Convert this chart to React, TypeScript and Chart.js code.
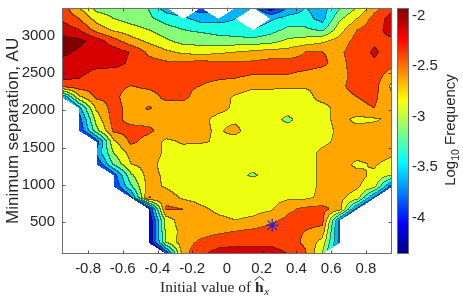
import React, { useEffect, useRef } from "react";
import { Chart, registerables } from "chart.js";

Chart.register(...registerables);

const N = null;

// grid of bin centres (vertices of the contour grid)
const xCenters = [-0.95, -0.85, -0.75, -0.65, -0.55, -0.45, -0.35, -0.25, -0.15, -0.05, 0.05, 0.15, 0.25, 0.35, 0.45, 0.55, 0.65, 0.75, 0.85, 0.95];
const yCenters = [3375, 3225, 3075, 2925, 2775, 2625, 2475, 2325, 2175, 2025, 1875, 1725, 1575, 1425, 1275, 1125, 975, 825, 675, 525, 375, 225, 75];

// log10 frequency, rows follow yCenters (top to bottom), columns follow xCenters
const logFreq: (number | null)[][] = [
  [-2.37, -2.75, -3.1, -3.15, -3.2, -3.25, -3.65, N, -3.9, N, -3.65, -3.7, -4.2, -3.75, -3.5, -3.6, -3.3, -3.0, -2.6, -2.3],
  [-2.28, -2.5, -2.85, -3.0, -3.1, -3.2, -3.35, -3.45, -3.6, -3.6, -3.5, N, -3.55, -3.4, -3.4, -3.6, -3.05, -2.75, -2.4, -2.15],
  [-2.1, -2.25, -2.6, -2.8, -2.9, -3.0, -3.15, -3.25, -3.3, -3.35, -3.4, -3.5, -3.35, -3.2, -3.2, -3.3, -2.85, -2.5, -2.35, -2.15],
  [-1.9, -1.93, -2.12, -2.4, -2.65, -2.8, -2.95, -3.1, -3.1, -3.15, -3.15, -3.15, -3.1, -2.95, -2.9, -2.8, -2.65, -2.4, -2.28, -2.3],
  [-1.93, -2.05, -2.12, -2.12, -2.27, -2.55, -2.7, -2.8, -2.85, -2.8, -2.75, -2.7, -2.65, -2.65, -2.5, -2.5, -2.55, -2.35, -2.22, -2.35],
  [-2.1, -2.12, -2.15, -2.15, -2.3, -2.4, -2.45, -2.45, -2.4, -2.45, -2.45, -2.45, -2.4, -2.4, -2.4, -2.45, -2.6, -2.35, -2.28, -2.4],
  [-2.15, -2.2, -2.35, -2.4, -2.4, -2.4, -2.4, -2.4, -2.45, -2.45, -2.45, -2.5, -2.5, -2.5, -2.55, -2.6, -2.6, -2.4, -2.35, -2.65],
  [-2.35, -2.35, -2.4, -2.45, -2.5, -2.45, -2.4, -2.45, -2.5, -2.55, -2.6, -2.68, -2.68, -2.7, -2.72, -2.7, -2.55, -2.4, -2.4, -2.8],
  [-3.8, -2.8, -2.45, -2.45, -2.6, -2.6, -2.45, -2.45, -2.6, -2.65, -2.78, -2.9, -2.9, -2.9, -2.85, -2.65, -2.6, -2.5, -2.45, -2.7],
  [N, -3.6, -2.7, -2.4, -2.6, -2.48, -2.6, -2.6, -2.65, -2.7, -2.78, -2.9, -2.9, -2.9, -2.8, -2.85, -2.65, -2.55, -2.5, -2.7],
  [N, -3.9, -2.9, -2.4, -2.6, -2.6, -2.6, -2.65, -2.7, -2.8, -2.8, -2.9, -2.9, -3.05, -2.9, -2.85, -2.65, -2.82, -2.78, -2.7],
  [N, -4.0, -3.1, -2.45, -2.4, -2.45, -2.6, -2.65, -2.7, -2.78, -2.68, -2.9, -2.95, -2.9, -2.9, -2.85, -2.7, -2.65, -2.65, -2.65],
  [N, N, -3.9, -2.8, -2.45, -2.6, -2.8, -2.72, -2.72, -2.78, -2.85, -2.95, -2.95, -2.9, -2.85, -2.8, -2.7, -2.65, -2.65, -2.7],
  [N, N, -3.7, -3.0, -2.65, -2.6, -2.8, -2.85, -2.9, -2.9, -2.95, -2.95, -2.95, -2.9, -2.85, -2.7, -2.65, -2.65, -2.62, -2.7],
  [N, N, -4.0, -3.2, -2.75, -2.65, -2.85, -2.9, -2.95, -2.95, -2.95, -2.95, -2.9, -2.9, -2.85, -2.7, -2.65, -2.8, -2.72, -2.85],
  [N, N, N, -3.9, -3.05, -2.65, -2.8, -2.9, -2.95, -2.95, -2.95, -3.02, -2.95, -2.9, -2.85, -2.7, -2.65, -2.68, -2.8, -3.0],
  [N, N, N, -4.0, -3.3, -2.65, -2.78, -2.9, -2.9, -2.95, -2.9, -2.9, -2.9, -2.85, -2.85, -2.7, -2.65, -2.72, -2.9, -3.9],
  [N, N, N, N, -3.8, -2.48, -2.6, -2.8, -2.85, -2.9, -2.85, -2.85, -2.85, -2.8, -2.8, -2.7, -2.7, -2.85, -3.85, N],
  [N, N, N, N, N, -4.1, -2.45, -2.5, -2.7, -2.8, -2.85, -2.85, -2.8, -2.55, -2.45, -2.42, -2.6, -3.85, N, N],
  [N, N, N, N, N, -4.3, -2.9, -2.6, -2.65, -2.7, -2.75, -2.7, -2.55, -2.45, -2.4, -2.4, -3.8, N, N, N],
  [N, N, N, N, N, -4.35, -2.95, -2.65, -2.6, -2.55, -2.5, -2.45, -2.4, -2.45, -2.5, -2.6, -3.85, N, N, N],
  [N, N, N, N, N, -4.3, -3.0, -2.6, -2.45, -2.35, -2.3, -2.3, -2.3, -2.35, -2.55, -2.85, -3.8, N, N, N],
  [N, N, N, N, N, N, -4.0, -2.6, -2.3, -2.15, -2.15, -2.15, -2.15, -2.25, -2.45, -3.0, N, N, N, N],
];

const contourLevels = [-4.25, -4, -3.75, -3.5, -3.25, -3, -2.75, -2.5, -2.25, -2];
const colorLimits = [-4.36, -1.92];

const xTicks = [-0.8, -0.6, -0.4, -0.2, 0, 0.2, 0.4, 0.6, 0.8];
const xTickLabels = ["-0.8", "-0.6", "-0.4", "-0.2", "0", "0.2", "0.4", "0.6", "0.8"];
const yTicks = [500, 1000, 1500, 2000, 2500, 3000];
const cbTicks = [-4, -3.5, -3, -2.5, -2];
const cbTickLabels = ["-4", "-3.5", "-3", "-2.5", "-2"];

const markerX = [0.26];
const markerY = [460];

const SANS = '"Liberation Sans", Arial, Helvetica, sans-serif';
const SERIF = '"Liberation Serif", "Times New Roman", serif';
const TEXT = "#262626";

function clamp01(v: number) {
  return Math.min(1, Math.max(0, v));
}
function jet(t: number): [number, number, number] {
  t = clamp01(t);
  return [
    Math.round(clamp01(1.5 - Math.abs(4 * t - 3)) * 255),
    Math.round(clamp01(1.5 - Math.abs(4 * t - 2)) * 255),
    Math.round(clamp01(1.5 - Math.abs(4 * t - 1)) * 255),
  ];
}

function locate(arr: number[], v: number): { i: number; f: number } | null {
  for (let i = 0; i < arr.length - 1; i++) {
    const a = arr[i], b = arr[i + 1];
    const lo = Math.min(a, b), hi = Math.max(a, b);
    if (v >= lo && v <= hi) return { i, f: (v - a) / (b - a) };
  }
  return null;
}

function sample(cx: { i: number; f: number }, cy: { i: number; f: number }): number | null {
  const a = logFreq[cy.i][cx.i];
  const b = logFreq[cy.i][cx.i + 1];
  const c = logFreq[cy.i + 1][cx.i];
  const d = logFreq[cy.i + 1][cx.i + 1];
  const u = cx.f, v = cy.f;
  const nn = (a === null ? 1 : 0) + (b === null ? 1 : 0) + (c === null ? 1 : 0) + (d === null ? 1 : 0);
  if (nn === 0) {
    return (a as number) * (1 - u) * (1 - v) + (b as number) * u * (1 - v) + (c as number) * (1 - u) * v + (d as number) * u * v;
  }
  if (nn > 1) return null;
  if (a === null) {
    if (u + v < 1) return null;
    return (d as number) + ((b as number) - (d as number)) * (1 - v) + ((c as number) - (d as number)) * (1 - u);
  }
  if (b === null) {
    if (v < u) return null;
    return a + ((d as number) - (c as number)) * u + ((c as number) - a) * v;
  }
  if (c === null) {
    if (u < v) return null;
    return a + ((b as number) - a) * u + ((d as number) - (b as number)) * v;
  }
  if (u + v > 1) return null;
  return a + ((b as number) - a) * u + ((c as number) - a) * v;
}

function levelIndex(v: number) {
  let k = 0;
  for (const l of contourLevels) if (v >= l) k++;
  return k;
}

function levelColor(k: number): [number, number, number] {
  const n = contourLevels.length;
  const lower = k === 0 ? contourLevels[0] - 0.25 : contourLevels[k - 1];
  const upper = k === n ? contourLevels[n - 1] + 0.25 : contourLevels[k];
  const mid = (lower + upper) / 2;
  return jet((mid - colorLimits[0]) / (colorLimits[1] - colorLimits[0]));
}

const contourPlugin = {
  id: "contourFill",
  beforeDatasetsDraw(chart: any) {
    const { ctx, chartArea: ca, scales } = chart;
    const xs = scales.x, ys = scales.y;
    const L = Math.round(ca.left), T = Math.round(ca.top);
    const R = Math.round(ca.right), B = Math.round(ca.bottom);
    const W = R - L, H = B - T;
    const lev = new Int16Array(W * H);
    const colLoc: any[] = [];
    for (let i = 0; i < W; i++) colLoc.push(locate(xCenters, xs.getValueForPixel(L + i + 0.5)));
    for (let j = 0; j < H; j++) {
      const cy = locate(yCenters, ys.getValueForPixel(T + j + 0.5));
      for (let i = 0; i < W; i++) {
        const cx = colLoc[i];
        let k = -1;
        if (cx && cy) {
          const v = sample(cx, cy);
          if (v !== null) k = levelIndex(v);
        }
        lev[j * W + i] = k;
      }
    }
    const palette = [] as [number, number, number][];
    for (let k = 0; k <= contourLevels.length; k++) palette.push(levelColor(k));
    const img = ctx.createImageData(W, H);
    const data = img.data;
    for (let j = 0; j < H; j++) {
      for (let i = 0; i < W; i++) {
        const idx = j * W + i;
        const k = lev[idx];
        const p = idx * 4;
        if (k < 0) {
          data[p] = 255; data[p + 1] = 255; data[p + 2] = 255; data[p + 3] = 255;
          continue;
        }
        let [r, g, b] = palette[k];
        let edge = false;
        if (i + 1 < W) { const kr = lev[idx + 1]; if (kr >= 0 && kr !== k) edge = true; }
        if (j + 1 < H) { const kd = lev[idx + W]; if (kd >= 0 && kd !== k) edge = true; }
        if (edge) {
          const a = 0.6;
          r = r * (1 - a) + 25 * a; g = g * (1 - a) + 25 * a; b = b * (1 - a) + 25 * a;
        }
        data[p] = r; data[p + 1] = g; data[p + 2] = b; data[p + 3] = 255;
      }
    }
    ctx.putImageData(img, L, T);
  },
  afterDraw(chart: any) {
    const { ctx, chartArea: ca, scales } = chart;
    const xs = scales.x, ys = scales.y, cs = scales.cb;
    ctx.save();
    // tick marks (inward)
    ctx.strokeStyle = TEXT;
    ctx.lineWidth = 0.8;
    ctx.beginPath();
    for (const v of xTicks) {
      const px = Math.round(xs.getPixelForValue(v)) + 0.5;
      ctx.moveTo(px, ca.bottom); ctx.lineTo(px, ca.bottom - 3.5);
      ctx.moveTo(px, ca.top); ctx.lineTo(px, ca.top + 3.5);
    }
    for (const v of yTicks) {
      const py = Math.round(ys.getPixelForValue(v)) + 0.5;
      ctx.moveTo(ca.left, py); ctx.lineTo(ca.left + 3.5, py);
      ctx.moveTo(ca.right, py); ctx.lineTo(ca.right - 3.5, py);
    }
    ctx.stroke();
    // axes box
    ctx.strokeStyle = "rgb(110,110,110)";
    ctx.lineWidth = 1;
    ctx.strokeRect(Math.round(ca.left) + 0.5, Math.round(ca.top) + 0.5, Math.round(ca.right - ca.left) - 1, Math.round(ca.bottom - ca.top) - 1);

    // colour bar
    const cbL = 397, cbR = 409;
    const cT = Math.round(cs.top), cB = Math.round(cs.bottom);
    for (let y = cT; y < cB; y++) {
      const v = cs.getValueForPixel(y + 0.5);
      const [r, g, b] = jet((v - colorLimits[0]) / (colorLimits[1] - colorLimits[0]));
      ctx.fillStyle = `rgb(${r},${g},${b})`;
      ctx.fillRect(cbL, y, cbR - cbL, 1);
    }
    ctx.strokeStyle = "rgb(110,110,110)";
    ctx.strokeRect(cbL + 0.5, cT + 0.5, cbR - cbL - 1, cB - cT - 1);

    ctx.fillStyle = TEXT;
    // y title
    ctx.save();
    ctx.translate(18, (ca.top + ca.bottom) / 2);
    ctx.rotate(-Math.PI / 2);
    ctx.font = `17px ${SANS}`;
    ctx.textAlign = "center";
    ctx.textBaseline = "alphabetic";
    ctx.fillText("Minimum separation, AU", 0, 0);
    ctx.restore();

    // colour bar title: Log10 Frequency
    ctx.save();
    ctx.translate(455, 130);
    ctx.rotate(-Math.PI / 2);
    ctx.textAlign = "left";
    ctx.textBaseline = "alphabetic";
    ctx.font = `15px ${SANS}`;
    const w1 = ctx.measureText("Log").width;
    const w3 = ctx.measureText(" Frequency").width;
    ctx.font = `10.5px ${SANS}`;
    const w2 = ctx.measureText("10").width;
    let u = -(w1 + w2 + w3) / 2;
    ctx.font = `15px ${SANS}`;
    ctx.fillText("Log", u, 0);
    u += w1;
    ctx.font = `10.5px ${SANS}`;
    ctx.fillText("10", u, 4);
    u += w2;
    ctx.font = `15px ${SANS}`;
    ctx.fillText(" Frequency", u, 0);
    ctx.restore();

    // x title: Initial value of h-hat_x
    ctx.save();
    ctx.textAlign = "left";
    ctx.textBaseline = "alphabetic";
    ctx.font = `15.5px ${SERIF}`;
    const base = 292;
    let x0 = 160;
    ctx.fillText("Initial value of ", x0, base);
    x0 += ctx.measureText("Initial value of ").width;
    ctx.font = `bold 15.5px ${SERIF}`;
    ctx.fillText("h", x0, base);
    const hw = ctx.measureText("h").width;
    ctx.strokeStyle = TEXT;
    ctx.lineWidth = 1;
    ctx.beginPath();
    ctx.moveTo(x0 - 0.5, 280.5);
    ctx.lineTo(x0 + hw / 2, 276.5);
    ctx.lineTo(x0 + hw + 0.5, 280.5);
    ctx.stroke();
    ctx.font = `italic 11px ${SERIF}`;
    ctx.fillText("x", x0 + hw + 0.5, base + 2.5);
    ctx.restore();

    ctx.restore();
  },
};

function noPad(s: any) {
  s.paddingTop = 0;
  s.paddingBottom = 0;
  s.paddingLeft = 0;
  s.paddingRight = 0;
}

export default function App() {
  const ref = useRef<HTMLCanvasElement | null>(null);
  useEffect(() => {
    document.body.style.margin = "0";
    const canvas = ref.current;
    if (!canvas) return;
    const chart = new Chart(canvas, {
      type: "scatter",
      data: {
        datasets: [
          {
            data: markerX.map((x, i) => ({ x, y: markerY[i] })),
            pointStyle: "star",
            radius: 6.5,
            borderColor: "rgb(30,30,220)",
            backgroundColor: "rgb(30,30,220)",
            borderWidth: 1.2,
          },
        ],
      },
      options: {
        animation: false,
        responsive: false,
        devicePixelRatio: 1,
        layout: { padding: { top: 3, left: 0, right: 0, bottom: 0 } },
        plugins: { legend: { display: false }, tooltip: { enabled: false } },
        scales: {
          x: {
            type: "linear",
            position: "bottom",
            min: -0.95,
            max: 0.95,
            z: 1,
            afterBuildTicks: (s: any) => {
              s.ticks = xTicks.map((v) => ({ value: v }));
            },
            afterFit: (s: any) => {
              s.height = 47;
              noPad(s);
            },
            ticks: {
              autoSkip: false,
              maxRotation: 0,
              padding: 6,
              color: TEXT,
              font: { family: SANS, size: 15 },
              callback: (v: any) => xTickLabels[xTicks.indexOf(Number(v))],
            },
            grid: { color: "rgba(38,38,38,0.15)", drawTicks: false },
            border: { display: false },
          },
          y: {
            type: "linear",
            position: "left",
            min: 75,
            max: 3375,
            z: 1,
            afterBuildTicks: (s: any) => {
              s.ticks = yTicks.map((v) => ({ value: v }));
            },
            afterFit: (s: any) => {
              s.width = 62;
              noPad(s);
            },
            ticks: {
              autoSkip: false,
              padding: 7,
              color: TEXT,
              font: { family: SANS, size: 15 },
              callback: (v: any) => String(v),
            },
            grid: { color: "rgba(38,38,38,0.15)", drawTicks: false },
            border: { display: false },
          },
          cb: {
            type: "linear",
            position: "right",
            min: colorLimits[0],
            max: colorLimits[1],
            afterBuildTicks: (s: any) => {
              s.ticks = cbTicks.map((v) => ({ value: v }));
            },
            afterFit: (s: any) => {
              s.width = 71;
              noPad(s);
            },
            ticks: {
              autoSkip: false,
              padding: 20,
              color: TEXT,
              font: { family: SANS, size: 15 },
              callback: (v: any) => cbTickLabels[cbTicks.indexOf(Number(v))],
            },
            grid: { display: false, drawTicks: false },
            border: { display: false },
          },
        },
      },
      plugins: [contourPlugin],
    } as any);
    return () => chart.destroy();
  }, []);
  return (
    <div style={{ width: 463, height: 301 }}>
      <canvas ref={ref} width={463} height={301} />
    </div>
  );
}
